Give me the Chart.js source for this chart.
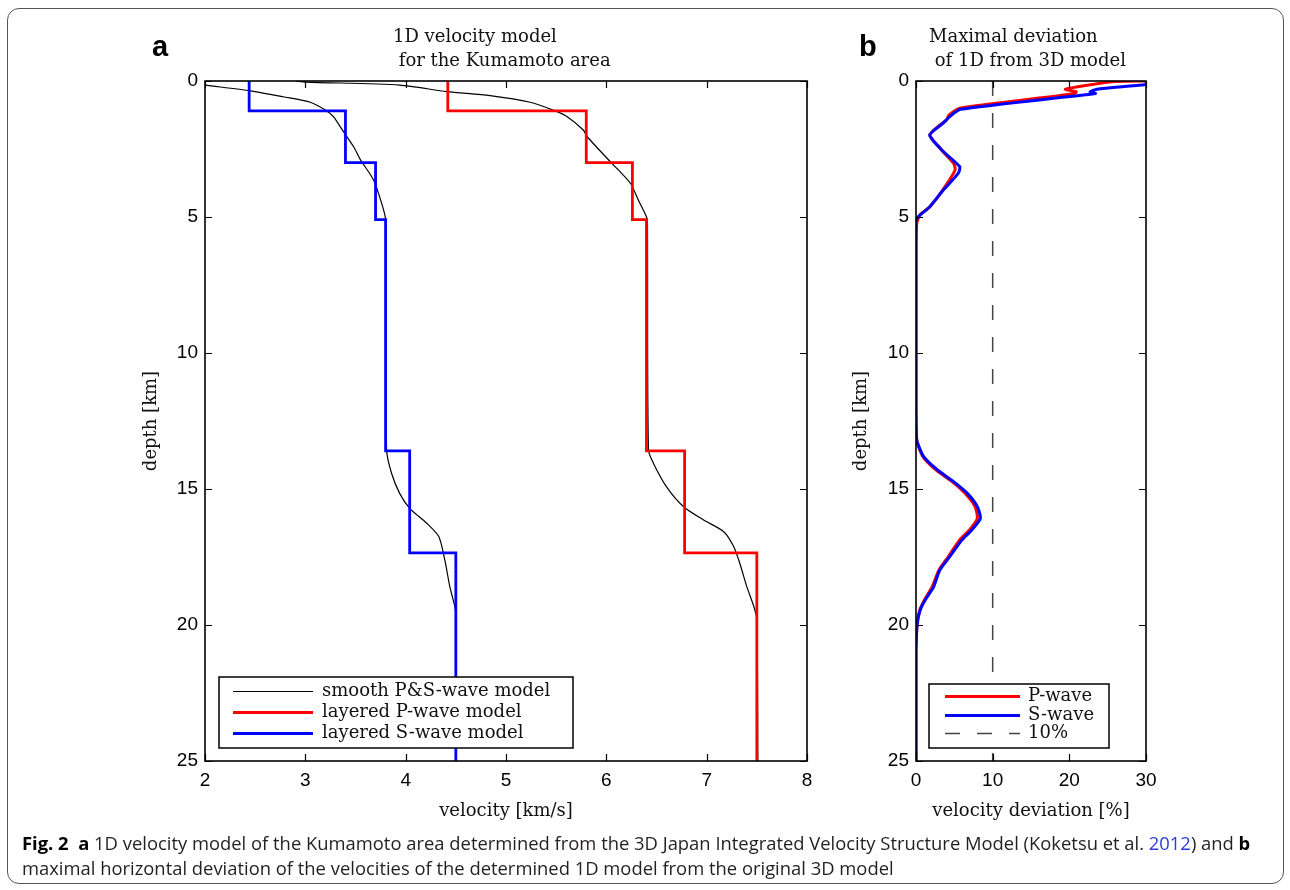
<!DOCTYPE html>
<html lang="en">
<head>
<meta charset="utf-8">
<title>1D velocity model for the Kumamoto area</title>
<script src="https://cdn.jsdelivr.net/npm/chart.js@4.4.1/dist/chart.umd.min.js"></script>
<style>
  body { margin: 0; background: #fff; }
  #hoja { position: relative; width: 1290px; height: 890px; overflow: hidden; background: #fff; }
  .marco { position: absolute; left: 7px; top: 8px; width: 1277px; height: 876px; border: 1.5px solid #555; border-radius: 12px; box-sizing: border-box; }
  canvas { position: absolute; top: 0; }
  #graficoA { left: 0; }
  #graficoB { left: 840px; }
  .titulo { position: absolute; top: 24px; font: 18px "DejaVu Serif", serif; line-height: 24px; white-space: pre; color: #111; }
  .letra { position: absolute; top: 32px; font: bold 29px "Liberation Sans", Arial, sans-serif; line-height: 29px; color: #000; }
  .pie { position: absolute; left: 22px; top: 831px; font: 18px "Open Sans", sans-serif; line-height: 25px; color: #231f20; white-space: nowrap; transform-origin: 0 0; }
  .pie b { font-weight: 700; color: #000; }
  .pie .ref { color: #2b3be0; }
</style>
</head>
<body>
<div id="hoja">
  <div class="marco"></div>
  <canvas id="graficoA" width="840" height="840"></canvas>
  <canvas id="graficoB" width="340" height="840"></canvas>
  <div class="letra" style="left:152px">a</div>
  <div class="letra" style="left:859px">b</div>
  <div class="titulo" style="left:393px">1D velocity model
 for the Kumamoto area</div>
  <div class="titulo" style="left:929px">Maximal deviation
 of 1D from 3D model</div>
  <div class="pie" id="pie"><span id="linea1"><b>Fig. 2</b>&nbsp; <b>a</b> 1D velocity model of the Kumamoto area determined from the 3D Japan Integrated Velocity Structure Model (Koketsu et al. <span class="ref">2012</span>) and <b>b</b></span><br><span>maximal horizontal deviation of the velocities of the determined 1D model from the original 3D model</span></div>
</div>

<script>
// ================= DATOS =================
const ticksVelocidad = [2, 3, 4, 5, 6, 7, 8];
const ticksProfundidad = [0, 5, 10, 15, 20, 25];
const ticksDesviacion = [0, 10, 20, 30];

// modelo por capas (km, km/s)
const capaTecho = [0, 1.1, 3.0, 5.1, 13.6, 17.35];
const capaBase  = [1.1, 3.0, 5.1, 13.6, 17.35, 25];
const capaVp    = [4.42, 5.80, 6.26, 6.40, 6.78, 7.50];
const capaVs    = [2.44, 3.40, 3.70, 3.80, 4.04, 4.50];

// modelo suave
const suaveSProf = [0, 0.15, 0.36, 0.58, 0.78, 1.09, 1.31, 1.86, 2.41, 2.90, 3.64, 4.49, 5.11, 13.57, 14.43, 15.16, 15.71, 16.26, 16.75, 17.61, 18.59, 19.32, 19.6, 25];
const suaveSVel  = [1.70, 2.00, 2.45, 2.78, 3.05, 3.21, 3.28, 3.38, 3.48, 3.55, 3.68, 3.76, 3.80, 3.81, 3.86, 3.94, 4.04, 4.21, 4.33, 4.39, 4.44, 4.49, 4.50, 4.50];
const suavePProf = [0, 0.04, 0.15, 0.39, 0.54, 0.78, 1.07, 1.31, 1.80, 2.05, 2.97, 3.27, 3.76, 4.38, 4.99, 5.2, 13.57, 14.06, 14.92, 15.65, 16.14, 16.57, 17.12, 17.73, 18.59, 19.32, 19.8, 25];
const suavePVel  = [2.90, 3.01, 3.94, 4.41, 4.84, 5.24, 5.47, 5.61, 5.77, 5.81, 6.04, 6.12, 6.24, 6.32, 6.40, 6.41, 6.42, 6.47, 6.60, 6.77, 6.97, 7.17, 7.27, 7.33, 7.40, 7.47, 7.50, 7.51];

// desviacion maxima (%)
const desvPProf = [0, 0.03, 0.30, 0.40, 0.47, 1.0, 1.25, 1.43, 1.62, 1.99, 2.5, 3.03, 3.27, 4.0, 4.62, 4.93, 5.23, 6, 9, 12, 13.2, 13.81, 14.3, 14.73, 15.16, 15.65, 16.08, 16.5, 16.87, 17.49, 17.98, 18.6, 19.08, 19.45, 19.94, 21, 25];
const desvP     = [30.5, 25.5, 19.5, 20.9, 20.6, 5.7, 4.3, 4.0, 3.1, 1.8, 3.2, 4.9, 5.1, 3.5, 1.8, 0.5, 0.1, 0, 0, 0, 0.1, 0.9, 2.6, 4.7, 6.4, 7.7, 8.0, 7.0, 5.7, 4.2, 3.0, 2.1, 1.1, 0.5, 0.15, 0, 0];
const desvSProf = [0, 0.12, 0.30, 0.40, 0.46, 1.04, 1.31, 1.56, 1.99, 2.6, 3.15, 3.4, 4.0, 4.62, 4.99, 5.2, 6, 9, 12, 13.2, 13.81, 14.3, 14.73, 15.16, 15.65, 16.08, 16.5, 16.87, 17.49, 17.98, 18.6, 19.08, 19.45, 19.94, 21, 25];
const desvS     = [31.5, 30.3, 23.6, 22.7, 23.4, 5.8, 4.4, 3.5, 1.8, 3.6, 5.7, 5.5, 3.6, 1.8, 0.3, 0, 0, 0, 0, 0.1, 1.0, 2.8, 4.9, 6.7, 8.0, 8.4, 7.3, 6.0, 4.4, 3.1, 2.3, 1.2, 0.55, 0.17, 0, 0];
const limiteProf  = [0, 25];
const limiteValor = [10, 10];

// ================= UTILES =================
const fuenteSerif = "'DejaVu Serif', serif";
const fuenteSans = "'Liberation Sans', Arial, sans-serif";

function puntos(xs, ys) {
    return xs.map((x, i) => ({ x, y: ys[i] }));
}

function escalones(vel) {
    return vel.flatMap((v, i) => [{ x: v, y: capaTecho[i] }, { x: v, y: capaBase[i] }]);
}

function ejeX(min, max, marcas, texto) {
    return {
        type: "linear", position: "bottom", min, max,
        afterBuildTicks: s => { s.ticks = marcas.map(v => ({ value: v })); },
        afterFit: s => { s.height = 64; },
        grid: { display: false, drawTicks: false },
        border: { display: false },
        ticks: { color: "#000", autoSkip: false, maxRotation: 0, padding: 8, font: { family: fuenteSans, size: 19 } },
        title: { display: true, text: texto, color: "#111", font: { family: fuenteSerif, size: 18 }, padding: { top: 0, bottom: 3 } }
    };
}

function ejeY(ancho, padTitulo) {
    return {
        type: "linear", position: "left", min: 0, max: 25, reverse: true,
        afterBuildTicks: s => { s.ticks = ticksProfundidad.map(v => ({ value: v })); },
        afterFit: s => { s.width = ancho; },
        grid: { display: false, drawTicks: false },
        border: { display: false },
        ticks: { color: "#000", autoSkip: false, padding: 7, font: { family: fuenteSans, size: 19 } },
        title: { display: true, text: "depth [km]", color: "#111", font: { family: fuenteSerif, size: 18 }, padding: { top: padTitulo, bottom: 0 } }
    };
}

function linea(label, data, color, ancho, extra = {}) {
    return Object.assign({
        label, data, borderColor: color, backgroundColor: color, borderWidth: ancho,
        showLine: true, pointRadius: 0, pointHoverRadius: 0, fill: false, tension: 0,
        borderJoinStyle: "miter", borderCapStyle: "butt"
    }, extra);
}

// ================= PLUGINS =================
const marcoPlugin = {
    id: "marco",
    afterDraw(chart) {
        const { ctx, chartArea: a, scales } = chart;
        const L = 7;
        ctx.save();
        ctx.strokeStyle = "#000";
        ctx.lineWidth = 1.2;
        ctx.beginPath();
        scales.x.ticks.forEach(t => {
            const px = Math.round(scales.x.getPixelForValue(t.value)) + 0.5;
            ctx.moveTo(px, a.bottom); ctx.lineTo(px, a.bottom - L);
            ctx.moveTo(px, a.top); ctx.lineTo(px, a.top + L);
        });
        scales.y.ticks.forEach(t => {
            const py = Math.round(scales.y.getPixelForValue(t.value)) + 0.5;
            ctx.moveTo(a.left, py); ctx.lineTo(a.left + L, py);
            ctx.moveTo(a.right, py); ctx.lineTo(a.right - L, py);
        });
        ctx.stroke();
        ctx.lineWidth = 1.6;
        ctx.strokeRect(a.left, a.top, a.right - a.left, a.bottom - a.top);
        ctx.restore();
    }
};

const leyendaPlugin = {
    id: "leyendaCaja",
    afterDraw(chart, args, o) {
        const { ctx, chartArea: a } = chart;
        const x = a.left + o.dx, y = a.bottom - o.dy;
        ctx.save();
        ctx.fillStyle = "#fff";
        ctx.fillRect(x, y, o.w, o.h);
        ctx.strokeStyle = "#000";
        ctx.lineWidth = 1.5;
        ctx.strokeRect(x, y, o.w, o.h);
        o.orden.forEach((i, k) => {
            const ds = chart.data.datasets[i];
            const yy = Math.round(y + o.fila0 + k * o.paso) + 0.5;
            ctx.strokeStyle = ds.borderColor;
            ctx.lineWidth = ds.borderWidth;
            ctx.setLineDash(ds.borderDash || []);
            ctx.beginPath();
            ctx.moveTo(x + o.m0, yy);
            ctx.lineTo(x + o.m1, yy);
            ctx.stroke();
            ctx.setLineDash([]);
            ctx.fillStyle = "#111";
            ctx.font = "18px " + fuenteSerif;
            ctx.textBaseline = "middle";
            ctx.textAlign = "left";
            ctx.fillText(ds.label, x + o.xt, yy);
        });
        ctx.restore();
    }
};

const basico = { responsive: false, animation: false, events: [] };

// ================= GRAFICO A =================
const suave = puntos(suaveSVel, suaveSProf).concat([{ x: null, y: null }], puntos(suavePVel, suavePProf));

new Chart(document.getElementById("graficoA"), {
    type: "scatter",
    data: {
        datasets: [
            linea("smooth P&S-wave model", suave, "#000000", 1.2, { tension: 0.25, order: 3 }),
            linea("layered P-wave model", escalones(capaVp), "#ff0000", 2.8, { order: 2 }),
            linea("layered S-wave model", escalones(capaVs), "#0000ff", 2.8, { order: 1 })
        ]
    },
    options: {
        ...basico,
        layout: { padding: { left: 105, top: 81, right: 33, bottom: 15 } },
        scales: {
            x: ejeX(2, 8, ticksVelocidad, "velocity [km/s]"),
            y: ejeY(100, 36)
        },
        plugins: {
            legend: { display: false },
            tooltip: { enabled: false },
            leyendaCaja: { dx: 14, dy: 84, w: 354, h: 71, fila0: 14, paso: 21, m0: 14, m1: 94, xt: 103, orden: [0, 1, 2] }
        }
    },
    plugins: [marcoPlugin, leyendaPlugin]
});

// ================= GRAFICO B =================
new Chart(document.getElementById("graficoB"), {
    type: "scatter",
    data: {
        datasets: [
            linea("P-wave", puntos(desvP, desvPProf), "#ff0000", 3, { tension: 0.2, order: 2 }),
            linea("S-wave", puntos(desvS, desvSProf), "#0000ff", 3, { tension: 0.2, order: 1 }),
            linea("10%", puntos(limiteValor, limiteProf), "#444444", 1.5, { borderDash: [15, 17], order: 3 })
        ]
    },
    options: {
        ...basico,
        layout: { padding: { left: 6, top: 81, right: 34, bottom: 15 } },
        scales: {
            x: ejeX(0, 30, ticksDesviacion, "velocity deviation [%]"),
            y: ejeY(70, 5)
        },
        plugins: {
            legend: { display: false },
            tooltip: { enabled: false },
            leyendaCaja: { dx: 13, dy: 77, w: 180, h: 64, fila0: 12, paso: 18.5, m0: 16, m1: 91, xt: 99, orden: [0, 1, 2] }
        }
    },
    plugins: [marcoPlugin, leyendaPlugin]
});

// ================= PIE =================
function ajustarPie() {
    const pie = document.getElementById("pie");
    const ancho = document.getElementById("linea1").offsetWidth;
    if (ancho) pie.style.transform = `scaleX(${1228 / ancho})`;
}
ajustarPie();
if (document.fonts) document.fonts.ready.then(ajustarPie);
</script>
</body>
</html>
